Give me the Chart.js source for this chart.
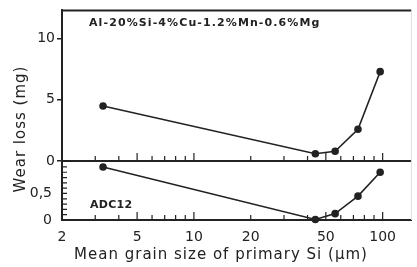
<!DOCTYPE html>
<html>
<head>
<meta charset="utf-8">
<script src="https://cdn.jsdelivr.net/npm/chart.js@4.4.0/dist/chart.umd.min.js"></script>
<style>
  html, body { margin: 0; padding: 0; background: #fff; }
  #wrap { width: 417px; height: 267px; }
</style>
</head>
<body>
<div id="wrap"><canvas id="grafico" width="417" height="267"></canvas></div>
<script>
// dados: tamanho de grão (µm) e perda por desgaste (mg)
const tamanhoGrao = [3.3, 44, 56, 74, 97];
const desgasteLiga = [4.5, 0.6, 0.8, 2.6, 7.3];     // Al-20%Si-4%Cu-1.2%Mn-0.6%Mg
const desgasteADC12 = [1.0, 0.01, 0.12, 0.45, 0.9]; // ADC12

// rótulos e marcas dos eixos
const rotulosX = [2, 5, 10, 20, 50, 100];
const marcasX = [3, 4, 5, 6, 7, 8, 9, 10, 20, 30, 40, 50, 60, 70, 80, 90, 100];
const marcasLongasX = [5, 10, 50, 100];
const rotulosYSup = [0, 5, 10];
const rotulosYInf = [0, 0.5];
const marcasYInf = [0.1, 0.2, 0.3, 0.4, 0.5, 0.6, 0.7, 0.8, 0.9, 1.0];

const COR = '#222';
const FONTE = 'DejaVu Sans';

// Função para montar os pontos {x, y}
function montarPontos(xs, ys) {
    return xs.map((x, i) => ({ x: x, y: ys[i] }));
}

// Plugin para moldura, marcas internas e textos
const moldura = {
    id: 'moldura',
    afterDraw(chart) {
        const ctx = chart.ctx;
        const area = chart.chartArea;
        const sx = chart.scales.x;
        const ys = chart.scales.y;
        const yi = chart.scales.y2;
        ctx.save();
        ctx.strokeStyle = COR;
        ctx.lineWidth = 2;
        ctx.beginPath();
        ctx.moveTo(area.left, area.top);
        ctx.lineTo(area.right, area.top);
        ctx.moveTo(area.left, ys.bottom);
        ctx.lineTo(area.right, ys.bottom);
        ctx.stroke();

        // borda direita quase apagada
        ctx.strokeStyle = '#ddd';
        ctx.lineWidth = 1;
        ctx.beginPath();
        ctx.moveTo(area.right, area.top);
        ctx.lineTo(area.right, area.bottom);
        ctx.stroke();

        // marcas do eixo x, para dentro, nos dois painéis
        ctx.strokeStyle = COR;
        ctx.lineWidth = 1.2;
        ctx.beginPath();
        marcasX.forEach(v => {
            const px = sx.getPixelForValue(v);
            const len = marcasLongasX.includes(v) ? 8 : 5;
            ctx.moveTo(px, ys.bottom);
            ctx.lineTo(px, ys.bottom - len);
            ctx.moveTo(px, yi.bottom);
            ctx.lineTo(px, yi.bottom - len);
        });
        // marcas menores do painel de baixo
        marcasYInf.forEach(v => {
            const py = yi.getPixelForValue(v);
            ctx.moveTo(area.left, py);
            ctx.lineTo(area.left + 5, py);
        });
        ctx.stroke();
        ctx.restore();

        // título do eixo x
        ctx.save();
        ctx.fillStyle = COR;
        ctx.font = '15px "' + FONTE + '"';
        ctx.letterSpacing = '1px';
        ctx.textAlign = 'center';
        ctx.textBaseline = 'middle';
        ctx.fillText('Mean grain size of primary Si (μm)', 221, 255);

        // título do eixo y
        ctx.translate(21, 129);
        ctx.rotate(-Math.PI / 2);
        ctx.fillText('Wear loss (mg)', 0, 0);
        ctx.restore();

        // anotações
        ctx.save();
        ctx.fillStyle = COR;
        ctx.font = 'bold 11px "' + FONTE + '"';
        ctx.textAlign = 'left';
        ctx.textBaseline = 'middle';
        ctx.letterSpacing = '1.1px';
        ctx.fillText('Al-20%Si-4%Cu-1.2%Mn-0.6%Mg', 89, 23);
        ctx.letterSpacing = '0.3px';
        ctx.fillText('ADC12', 90, 205);
        ctx.restore();
    }
};

new Chart(document.getElementById('grafico'), {
    type: 'line',
    data: {
        datasets: [
            {
                label: 'Al-20%Si-4%Cu-1.2%Mn-0.6%Mg',
                data: montarPontos(tamanhoGrao, desgasteLiga),
                yAxisID: 'y',
                borderColor: COR,
                backgroundColor: COR,
                borderWidth: 1.6,
                pointRadius: 3,
                pointBackgroundColor: COR,
                tension: 0,
                clip: false
            },
            {
                label: 'ADC12',
                data: montarPontos(tamanhoGrao, desgasteADC12),
                yAxisID: 'y2',
                borderColor: COR,
                backgroundColor: COR,
                borderWidth: 1.6,
                pointRadius: 3,
                pointBackgroundColor: COR,
                tension: 0,
                clip: false
            }
        ]
    },
    options: {
        responsive: false,
        animation: false,
        devicePixelRatio: 1,
        layout: { padding: { top: 10, right: 4, left: 0, bottom: 0 } },
        plugins: {
            legend: { display: false },
            tooltip: { enabled: false }
        },
        scales: {
            x: {
                type: 'logarithmic',
                min: 2,
                max: 142,
                position: 'bottom',
                border: { display: true, color: COR, width: 2 },
                grid: { display: false },
                ticks: {
                    autoSkip: false,
                    maxRotation: 0,
                    padding: 1,
                    color: COR,
                    font: { family: FONTE, size: 14 },
                    callback: v => rotulosX.includes(v) ? String(v) : ''
                },
                afterFit: s => { s.height = 47; }
            },
            // painel de baixo definido primeiro para ficar embaixo na pilha
            y2: {
                stack: 'paineis',
                stackWeight: 59,
                position: 'left',
                min: 0,
                max: 1.11,
                border: { display: true, color: COR, width: 2 },
                grid: { display: false },
                afterBuildTicks: s => { s.ticks = rotulosYInf.map(v => ({ value: v })); },
                ticks: {
                    padding: 2,
                    color: COR,
                    font: { family: FONTE, size: 14 },
                    callback: v => String(v).replace('.', ',')
                },
                afterFit: s => { s.width = 62; }
            },
            y: {
                stack: 'paineis',
                stackWeight: 151,
                position: 'left',
                min: 0,
                max: 12.3,
                border: { display: true, color: COR, width: 2 },
                grid: { drawOnChartArea: false, tickLength: 5, color: COR, lineWidth: 1.5 },
                afterBuildTicks: s => { s.ticks = rotulosYSup.map(v => ({ value: v })); },
                ticks: {
                    padding: 2,
                    color: COR,
                    font: { family: FONTE, size: 14 }
                },
                afterFit: s => { s.width = 62; }
            }
        }
    },
    plugins: [moldura]
});
</script>
</body>
</html>
